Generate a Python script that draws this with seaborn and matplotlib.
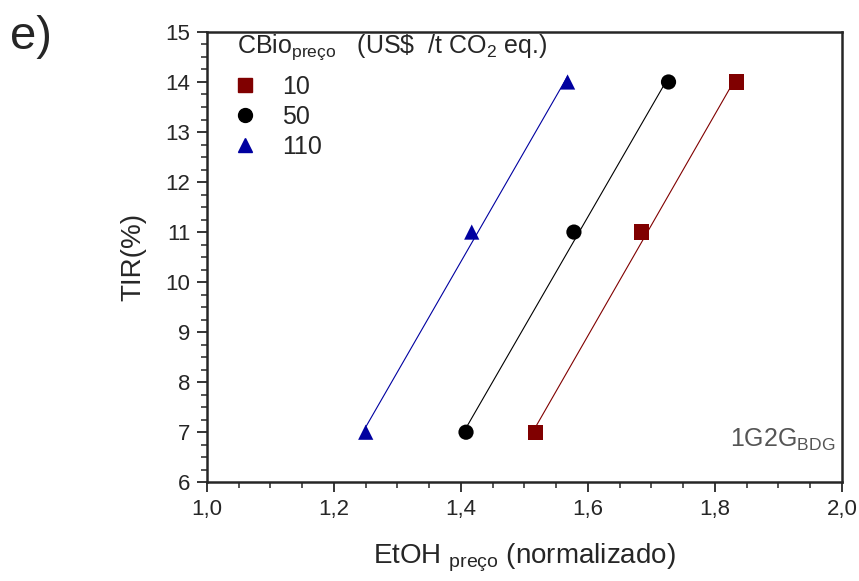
import numpy as np
import pandas as pd
import matplotlib
matplotlib.use("Agg")
import matplotlib.pyplot as plt
import seaborn as sns
from matplotlib.ticker import MultipleLocator, FuncFormatter
from matplotlib.lines import Line2D

# data
tir = [7, 11, 14]
etoh_10 = [1.517, 1.685, 1.834]
etoh_50 = [1.408, 1.578, 1.727]
etoh_110 = [1.250, 1.417, 1.568]
cbio_levels = ["10", "50", "110"]
colors = {"10": "#800000", "50": "#000000", "110": "#0000A0"}
markers = {"10": "s", "50": "o", "110": "^"}

df = pd.DataFrame({
    "etoh": etoh_10 + etoh_50 + etoh_110,
    "tir": tir * 3,
    "cbio": ["10"] * 3 + ["50"] * 3 + ["110"] * 3,
})

sns.set_style("ticks")
plt.rcParams["font.family"] = ["Liberation Sans", "DejaVu Sans"]
plt.rcParams["mathtext.fontset"] = "custom"
plt.rcParams["mathtext.rm"] = "Liberation Sans"
plt.rcParams["mathtext.it"] = "Liberation Sans"

fig = plt.figure(figsize=(8.59, 5.81), dpi=100)
ax = fig.add_axes([0.241, 0.170, 0.739, 0.775])

# fitted lines
for lvl in cbio_levels:
    sub = df[df["cbio"] == lvl]
    sns.regplot(data=sub, x="etoh", y="tir", ax=ax, scatter=False, ci=None,
                truncate=True, color=colors[lvl], line_kws={"lw": 0.8})

sns.scatterplot(data=df, x="etoh", y="tir", hue="cbio", style="cbio",
                palette=colors, markers=markers, s=120, edgecolor="none",
                ax=ax, legend=False, zorder=3)

ax.set_xlim(1.0, 2.0)
ax.set_ylim(6, 15)
ax.xaxis.set_major_locator(MultipleLocator(0.2))
ax.xaxis.set_minor_locator(MultipleLocator(0.05))
ax.yaxis.set_major_locator(MultipleLocator(1))
ax.yaxis.set_minor_locator(MultipleLocator(0.25))
ax.xaxis.set_major_formatter(FuncFormatter(lambda v, p: f"{v:.1f}".replace(".", ",")))
ax.tick_params(axis="both", which="major", length=7, width=1.3, labelsize=16,
               direction="out", pad=5)
ax.tick_params(axis="both", which="minor", length=4, width=1.1, direction="out")
for s in ax.spines.values():
    s.set_linewidth(1.8)

ax.set_xlabel(r"EtOH $_{\mathrm{preço}}$ (normalizado)", fontsize=20, labelpad=16)
ax.set_ylabel("TIR(%)", fontsize=20, labelpad=14)

# legend title drawn as text, entries as legend
ax.text(0.047, 0.953, r"CBio$_{\mathrm{preço}}$   (US\$  /t CO$_2$ eq.)",
        transform=ax.transAxes, ha="left", va="baseline", fontsize=18)
handles = [Line2D([], [], ls="none", marker=markers[l], color=colors[l], markersize=10)
           for l in cbio_levels]
leg = ax.legend(handles, cbio_levels, loc="upper left", bbox_to_anchor=(0.04, 0.905),
                frameon=False, fontsize=18, handletextpad=0.98, handlelength=1.0,
                labelspacing=0.25, borderaxespad=0, borderpad=0)

ax.text(0.99, 0.093, r"1G2G$_{\mathrm{BDG}}$", transform=ax.transAxes, ha="right",
        va="center", fontsize=18, color="#555555")

fig.text(0.012, 0.975, "e)", fontsize=34, va="top", ha="left")

fig.savefig("out.png", dpi=100)
